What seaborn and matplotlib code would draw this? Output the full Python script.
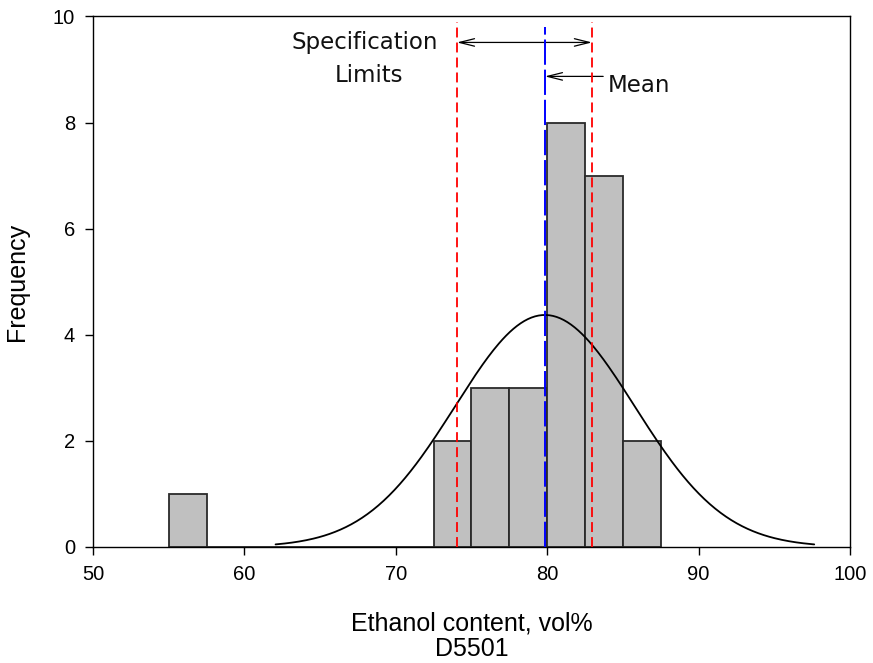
import numpy as np
import pandas as pd
import seaborn as sns
import matplotlib
matplotlib.use("Agg")
import matplotlib.pyplot as plt

# histogram (bin width 2.5)
bin_left = [55.0, 72.5, 75.0, 77.5, 80.0, 82.5, 85.0]
counts = [1, 2, 3, 3, 8, 7, 2]
bin_width = 2.5

# fitted normal and reference lines
mean_val = 79.85
sd_val = 5.93
spec_low = 74.04
spec_high = 82.96

sns.set_style("ticks")
plt.rcParams["font.family"] = ["Liberation Sans", "DejaVu Sans"]
plt.rcParams["text.color"] = "black"
plt.rcParams["axes.labelcolor"] = "black"

fig = plt.figure(figsize=(8.73, 6.63), dpi=100)
ax = fig.add_axes([0.1065, 0.175, 0.8671, 0.8002])

df = pd.DataFrame({"center": np.array(bin_left) + bin_width / 2, "count": counts})
edges = list(np.arange(55.0, 87.5 + 0.01, bin_width))
sns.histplot(data=df, x="center", weights="count", bins=edges, color="#c0c0c0",
             edgecolor="#2a2a2a", linewidth=1.3, alpha=1, ax=ax, zorder=2)

# normal curve scaled to counts, drawn over mean +/- 3 sd
n = sum(counts)
xs = np.linspace(mean_val - 3 * sd_val, mean_val + 3 * sd_val, 300)
ys = n * bin_width / (sd_val * np.sqrt(2 * np.pi)) * np.exp(-0.5 * ((xs - mean_val) / sd_val) ** 2)
sns.lineplot(x=xs, y=ys, color="black", linewidth=1.3, ax=ax, zorder=4)

for s in (spec_low, spec_high):
    ax.axvline(s, ymax=0.99, color="red", linestyle=(0, (5.5, 2.8)),
               linewidth=1.3, zorder=5)
ax.axvline(mean_val, ymax=0.981, color="blue", linestyle=(0, (13, 2.5)),
           linewidth=1.4, zorder=5)

arrow_kw = dict(color="black", lw=0.9, shrinkA=0, shrinkB=0, mutation_scale=18)
ax.annotate("", xy=(spec_low, 9.51), xytext=(spec_high, 9.51),
            arrowprops=dict(arrowstyle="<->,head_length=0.6,head_width=0.15", **arrow_kw))
ax.annotate("", xy=(mean_val, 8.87), xytext=(83.7, 8.87),
            arrowprops=dict(arrowstyle="->,head_length=0.6,head_width=0.15", **arrow_kw))
ax.text(67.97, 9.38, "Specification", ha="center", va="baseline", fontsize=16.5,
        family="DejaVu Sans", color="#111111")
ax.text(68.2, 8.77, "Limits", ha="center", va="baseline", fontsize=16.5,
        family="DejaVu Sans", color="#111111")
ax.text(84.0, 8.57, "Mean", ha="left", va="baseline", fontsize=16.5,
        family="DejaVu Sans", color="#111111")

ax.set_xlim(50, 100)
ax.set_ylim(0, 10)
ax.set_xticks(np.arange(50, 101, 10))
ax.set_yticks(np.arange(0, 11, 2))
ax.tick_params(axis="both", direction="out", length=6, width=1, pad=7,
               labelsize=14.5, color="black", labelcolor="black")
for sp in ax.spines.values():
    sp.set_visible(True)
    sp.set_color("black")
    sp.set_linewidth(1)
ax.set_xlabel("Ethanol content, vol%\nD5501", fontsize=18, labelpad=20,
              linespacing=1.05)
ax.set_ylabel("Frequency", fontsize=18, labelpad=17)

fig.savefig("out.png", dpi=100)
